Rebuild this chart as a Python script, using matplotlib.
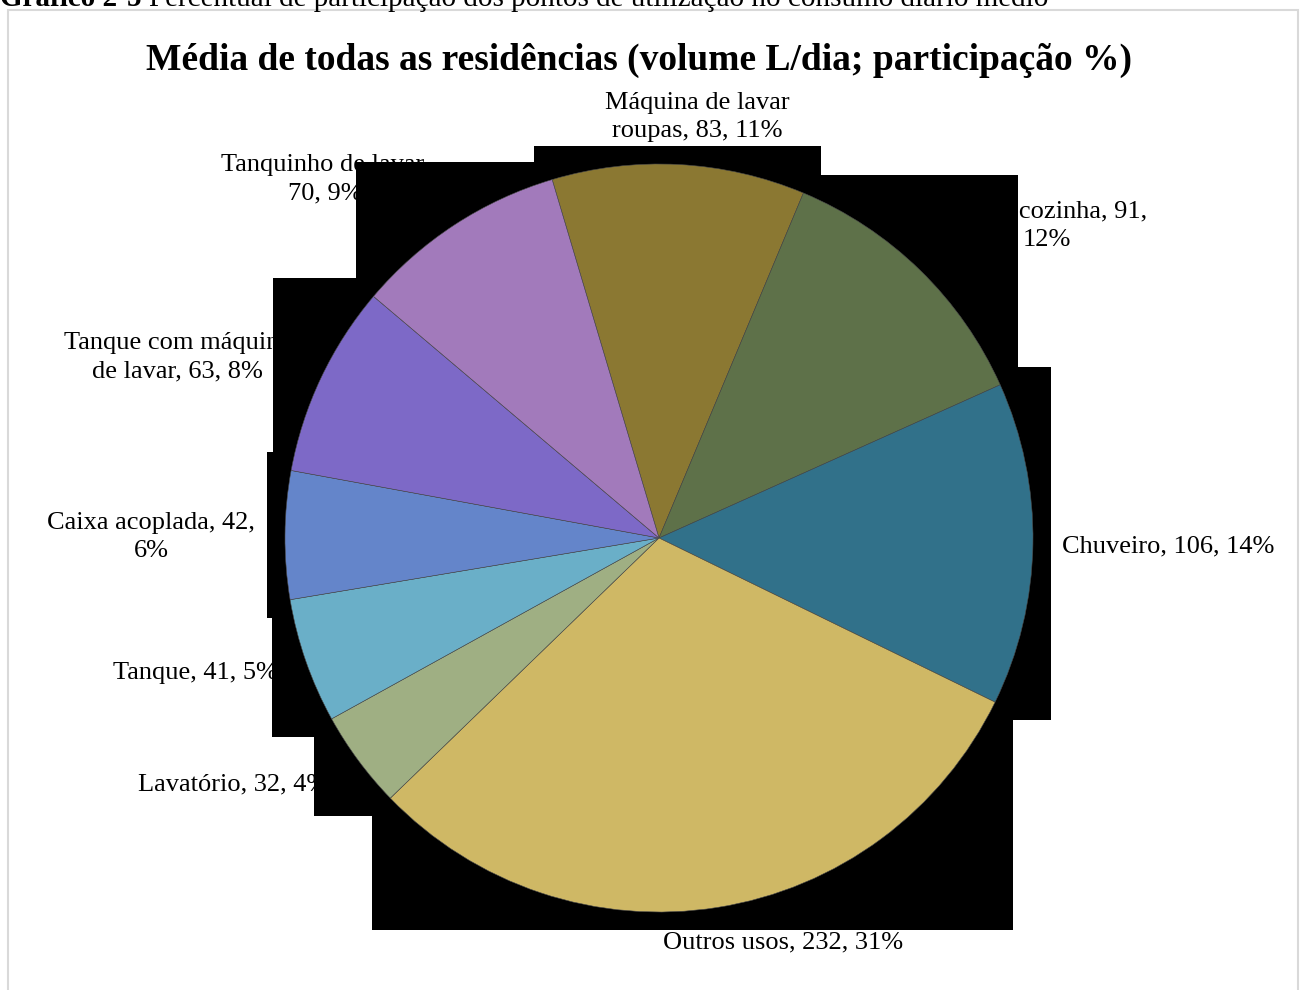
"""
Gráfico de pizza - consumo médio diário por ponto de utilização
"""

import numpy as np
import matplotlib.pyplot as plt
from matplotlib.patches import Rectangle

plt.rcParams['font.family'] = ['Liberation Serif', 'DejaVu Serif']

# Dados (volume em L/dia) na ordem horária das fatias
usos = [
    'Máquina de lavar\nroupas',
    'Pia de cozinha',
    'Chuveiro',
    'Outros usos',
    'Lavatório',
    'Tanque',
    'Caixa acoplada',
    'Tanque com máquina\nde lavar',
    'Tanquinho de lavar',
]
volume = [83, 91, 106, 232, 32, 41, 42, 63, 70]
cores = ['#8b7832', '#5e7149', '#31718a', '#cfb865', '#9faf83',
         '#6aafc8', '#6485ca', '#7d69c7', '#a27abb']

# formato do rótulo (quebras de linha como no gráfico original)
formatos = [
    '{n}, {v}, {p}%',
    '{n}, {v},\n{p}%',
    '{n}, {v}, {p}%',
    '{n}, {v}, {p}%',
    '{n}, {v}, {p}%',
    '{n}, {v}, {p}%',
    '{n}, {v},\n{p}%',
    '{n}, {v}, {p}%',
    '{n},\n{v}, {p}%',
]
# posição dos rótulos (px, a partir do canto superior esquerdo)
pos_rotulos = [(697, 117), (1047, 226), (1168, 546), (783, 942), (233, 784),
               (195, 673), (151, 537), (177, 357), (325, 179)]

W, H = 1300, 990
centro = (659, H - 538)
raio = 374
folga = 18   # margem dos retângulos pretos atrás das fatias

total = sum(volume)
percentual = [round(v / total * 100) for v in volume]

fig = plt.figure(figsize=(W / 100, H / 100), dpi=100)
ax = fig.add_axes([0, 0, 1, 1])

wedges, _ = ax.pie(
    volume,
    colors=cores,
    startangle=106.6,
    counterclock=False,
    center=centro,
    radius=raio,
    wedgeprops=dict(edgecolor='#4a4a4a', linewidth=0.4, zorder=3),
)

# retângulos pretos (caixa de cada fatia)
for w in wedges:
    t = np.radians(np.linspace(w.theta1, w.theta2, 200))
    xs = np.concatenate([[centro[0]], centro[0] + raio * np.cos(t)])
    ys = np.concatenate([[centro[1]], centro[1] + raio * np.sin(t)])
    x0, x1 = xs.min() - folga, xs.max() + folga
    y0, y1 = ys.min() - folga, ys.max() + folga
    ax.add_patch(Rectangle((x0, y0), x1 - x0, y1 - y0,
                           facecolor='black', edgecolor='none', zorder=2))

# rótulos
for nome, v, p, fmt, (px, py) in zip(usos, volume, percentual, formatos, pos_rotulos):
    ax.text(px, H - py, fmt.format(n=nome, v=v, p=p), fontsize=19,
            ha='center', va='center', linespacing=1.4, zorder=1)

ax.set_xlim(0, W)
ax.set_ylim(0, H)
ax.set_aspect('equal')
ax.axis('off')

# moldura do gráfico
ax.add_patch(Rectangle((8, -10), W - 10, H, fill=False,
                       edgecolor='#d9d9d9', linewidth=1.5, zorder=0))

ax.text(639, H - 60, 'Média de todas as residências (volume L/dia; participação %)',
        fontsize=27, fontweight='bold', ha='center', va='center')

# legenda do gráfico (cortada no topo)
fig.canvas.draw()
r = fig.canvas.get_renderer()
t1 = ax.text(0, H - 6, 'Gráfico 2-5 ', fontsize=21, fontweight='bold',
             ha='left', va='baseline')
bb = t1.get_window_extent(renderer=r)
ax.text(bb.x1, H - 6, 'Percentual de participação dos pontos de utilização no consumo diário médio',
        fontsize=21, ha='left', va='baseline')

fig.savefig('out.png', dpi=100, facecolor='white')
